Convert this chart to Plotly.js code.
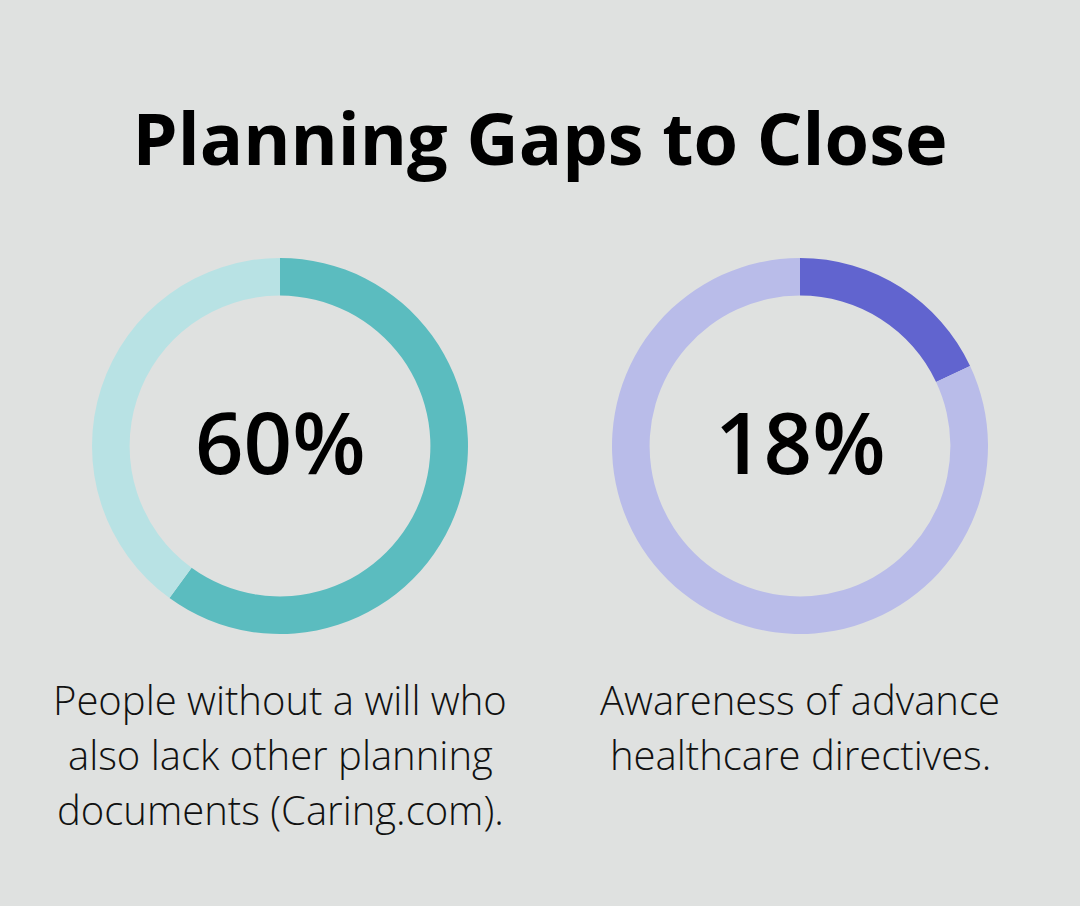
<!DOCTYPE html>
<html>
<head>
<meta charset="utf-8">
<script src="https://cdn.plot.ly/plotly-3.0.1.min.js"></script>
<style>html,body{margin:0;padding:0;background:#dfe1e0;}#chart{width:1080px;height:906px;}</style>
</head>
<body>
<div id="chart"></div>
<script>
const chartTitle = "Planning Gaps to Close";
const percents = [60, 18];
const labels = ["60%", "18%"];
const captions = [
  ["People without a will who", "also lack other planning", "documents (Caring.com)."],
  ["Awareness of advance", "healthcare directives."]
];
const mainColors = ["#5bbcbf", "#6164cf"];
const restColors = ["#b8e2e4", "#b9bce9"];

const W = 1080, H = 906;
const centersX = [280, 800];
const centerY = 446;
const R = 188;

const traces = percents.map((p, i) => ({
  type: "pie",
  values: [p, 100 - p],
  labels: ["value", "rest"],
  hole: 0.80,
  sort: false,
  direction: "clockwise",
  rotation: 0,
  textinfo: "none",
  hoverinfo: "skip",
  showlegend: false,
  marker: { colors: [mainColors[i], restColors[i]], line: { width: 0 } },
  domain: {
    x: [(centersX[i] - R) / W, (centersX[i] + R) / W],
    y: [1 - (centerY + R) / H, 1 - (centerY - R) / H]
  }
}));

const annotations = [];
labels.forEach((t, i) => {
  annotations.push({
    text: t, xref: "paper", yref: "paper",
    x: centersX[i] / W, y: 1 - 441 / H,
    xanchor: "center", yanchor: "middle", showarrow: false,
    font: { family: "Open Sans", size: 85, color: "#000000", weight: 600 }
  });
});
captions.forEach((lines, i) => {
  lines.forEach((line, j) => {
    annotations.push({
      text: line, xref: "paper", yref: "paper",
      x: centersX[i] / W, y: 1 - (699 + 55 * j) / H,
      xanchor: "center", yanchor: "middle", showarrow: false,
      font: { family: "Open Sans", size: 40, color: "#111111", weight: 300 }
    });
  });
});

const layout = {
  width: W, height: H,
  paper_bgcolor: "#dfe1e0",
  plot_bgcolor: "#dfe1e0",
  margin: { l: 0, r: 0, t: 0, b: 0 },
  title: {
    text: "<b>" + chartTitle + "</b>",
    x: 0.5, xanchor: "center",
    y: 1 - 140 / H, yanchor: "middle", yref: "container",
    font: { family: "Open Sans", size: 72, color: "#000000" }
  },
  annotations: annotations
};

Plotly.newPlot("chart", traces, layout, { displayModeBar: false, staticPlot: true });
</script>
</body>
</html>
